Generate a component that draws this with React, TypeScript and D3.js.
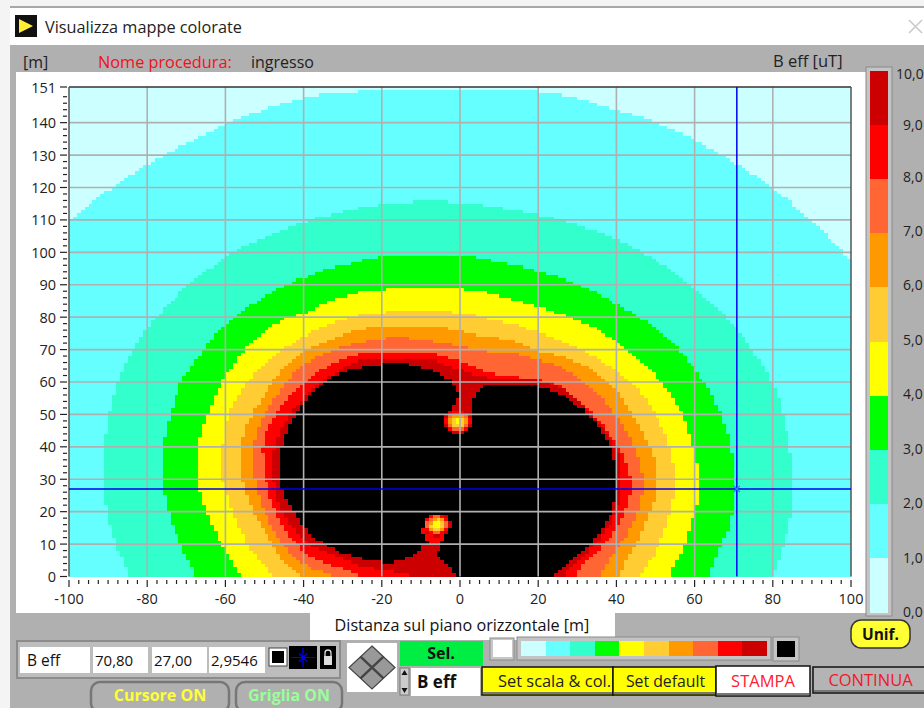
import React, { useMemo } from "react";
import * as d3 from "d3";

type P = [number, number];

const palette = ["#ccffff", "#66ffff", "#33ffcc", "#00ff00", "#ffff00", "#ffcc33", "#ff9900", "#ff6633", "#ff0000", "#cc0000"];
const insideColor = "#000000";

// Contours of the map, in metres.
const contourCyan: P[] = [[-115, 96], [-99.7, 109.2], [-90.3, 119], [-79.8, 127.4], [-59.6, 140], [-48.6, 144.6], [-35.8, 149], [-20, 149.8], [0, 150], [15, 149.8], [25.6, 149.2], [40.2, 143.7], [48.6, 140.9], [59.6, 135.3], [70.3, 127.6], [79.8, 120.2], [89.5, 110.5], [99.2, 98.5], [112, 84], [125, -20], [-125, -20]];
const contourTeal: P[] = [[-84.4, 0], [-88.7, 11.4], [-91.3, 25.8], [-91.6, 35], [-89.5, 51.4], [-87.7, 60], [-83.6, 70.8], [-77.2, 80.6], [-69.8, 89.8], [-59.6, 99], [-51.9, 103.7], [-39.1, 109.8], [-30.7, 112.3], [-21.2, 114.5], [-12.8, 115.6], [-0.5, 115.6], [9.5, 113.8], [18.7, 112], [28.1, 109.2], [38.4, 105.2], [47.3, 99.7], [59.6, 89.8], [69.8, 78.2], [76, 67.7], [79.8, 60], [82.6, 51.4], [85.7, 29.8], [84.9, 19.7], [82.6, 9.2], [80, 0], [78, -10], [-82, -10]];
const contourGreen: P[] = [[-67, 0], [-71.6, 9.2], [-75.4, 22.8], [-76.2, 32.9], [-76, 42.2], [-72.1, 57.5], [-71.6, 60], [-65.7, 69.8], [-59.6, 79], [-45.3, 89.8], [-34.5, 94.8], [-24.8, 97.5], [-19.2, 99], [3.3, 99], [10.2, 96.9], [19.9, 94.5], [29.9, 90.5], [38.4, 85.2], [44.2, 81.2], [53.7, 73.8], [59.6, 64.6], [63.9, 57.5], [68.5, 45.2], [70.3, 32], [69.6, 16.6], [66.5, 9.2], [63.4, 0], [61, -10], [-65, -10]];
const contourYellow: P[] = [[-55.8, 0], [-62.1, 12.3], [-66.5, 24.6], [-67.3, 33.8], [-67, 42.2], [-62.1, 57.5], [-57, 67.4], [-51.9, 73.8], [-45.3, 79.7], [-38.4, 81.5], [-35, 84.3], [-28.9, 86.8], [-19.7, 88.8], [0, 88.8], [7.7, 87.4], [18.7, 83.7], [28.9, 79.7], [35.8, 76], [44.2, 68.9], [51.9, 59.7], [57, 50.5], [59.6, 40], [61.1, 32], [60.9, 23.7], [58.8, 14.5], [55.8, 5.2], [53.2, 0], [50, -10], [-53, -10]];
const contourGold: P[] = [[-47.3, 0], [-54.5, 9.2], [-59.6, 24.6], [-61.4, 33.8], [-59.6, 48.3], [-57.5, 54.5], [-54.5, 60], [-49.4, 66.8], [-40.9, 73.5], [-32.5, 78.5], [-22.5, 81.7], [0, 81.7], [5.6, 80], [17.1, 76.9], [29.9, 70.8], [40.2, 63.7], [46, 57.5], [50.4, 49.8], [53.7, 40], [55.2, 30.8], [54.5, 22.8], [51.9, 12.3], [49.1, 5.2], [45.5, 0], [42, -10], [-44, -10]];
const contourOrange: P[] = [[-39.6, 0], [-41.7, 1], [-46, 5.7], [-49.4, 12.3], [-54.5, 23.7], [-56.8, 35], [-55, 46.8], [-49.4, 57.5], [-43.5, 67], [-36.6, 71.4], [-27.4, 76], [-19.7, 77.1], [-3.3, 77.1], [3.3, 74.5], [14.6, 72.9], [18.7, 69.8], [29.9, 66.8], [35.8, 62.2], [40.2, 57.5], [45.5, 47.4], [50.4, 35], [50.4, 26.8], [48.6, 19.7], [45.3, 10.5], [40.4, 0], [37, -10], [-37, -10]];
const contourTomato: P[] = [[-32, 0], [-33.2, 1], [-39.6, 3], [-46, 10.3], [-51.7, 23.7], [-53.2, 35], [-52.4, 45.2], [-46, 57.5], [-40.9, 65.2], [-30.7, 70.8], [-22.5, 72.9], [-16.1, 73.9], [-9.5, 72.9], [-0.8, 71.4], [3.3, 69.8], [14.6, 68.9], [26.3, 64.6], [33.2, 59.1], [42.2, 46.8], [47.3, 32], [46, 20.6], [42.2, 11.4], [35, 0], [31, -10], [-28, -10]];
const contourRed: P[] = [[-25, 0], [-26.3, 1], [-33.2, 3.5], [-39.6, 6.6], [-46, 16], [-49.4, 26.8], [-50.6, 36.9], [-50.4, 43.1], [-48.6, 47.4], [-45.3, 53.5], [-39.6, 60], [-32.5, 66.2], [-24.3, 69.4], [-7.7, 69.4], [0.8, 66.2], [5.9, 63.1], [14.6, 61.5], [23, 60.6], [30.7, 54.5], [39.1, 43.1], [44.2, 32], [43, 20.6], [38.4, 11.4], [31.5, 4.3], [29.9, 0], [27, -10], [-22, -10]];
const contourDark: P[] = [[-9.5, 0], [-20, 2], [-26.3, 3.5], [-33.2, 7.2], [-39.6, 10.3], [-46, 19.6], [-48.1, 32], [-47.8, 39], [-45.3, 47.4], [-39.6, 56], [-32.5, 62.8], [-24.8, 67.5], [-7.7, 67.5], [0, 63.7], [5.9, 61.2], [19.7, 61.2], [27.4, 57.5], [35, 48.3], [40.9, 38.2], [41.7, 29.8], [40.2, 19.7], [35.8, 11.4], [31.5, 6.2], [25.6, 0], [23, -10], [-8, -10]];
const contourBlack: P[] = [[-46, 27.7], [-46.3, 35], [-45.5, 41.2], [-42.7, 49.2], [-37.6, 57.5], [-32.5, 62.2], [-25.6, 64.6], [-19.7, 65.7], [-12.8, 65.7], [-5.9, 63.1], [-1.8, 60], [1, 58.5], [5.1, 58.2], [7.7, 59.2], [18.7, 59.2], [27.4, 55.4], [34, 49.2], [39.1, 39], [40.2, 32], [39.6, 21.5], [35.8, 13.5], [31.5, 7.4], [23, 0], [21, -10], [1, -10], [-0.8, 1], [-6.4, 6.6], [-4.5, 10.5], [-9.5, 10.5], [-10.7, 7.3], [-12.8, 5.7], [-17.9, 4.2], [-20, 4.5], [-28.1, 6], [-35.3, 10.3], [-39.6, 14.4], [-42.5, 20]];
const neckTop: P[] = [[-2, 60.5], [6, 58.5], [3.5, 56], [3.4, 50], [3.4, 46], [-3, 46], [-3, 50], [0, 55.5], [-1, 58]];
const neckBottom: P[] = [[-9.9, 16], [-3, 16], [-4, 10.3], [-9, 10.3]];

const sourceCentres: P[] = [[-0.5, 47.7], [-5.9, 15.9]];
const ringRadii = [3.6, 3.2, 2.7, 2.2, 1.7, 1.0];
const ringColors = ["#cc0000", "#ff0000", "#ff6633", "#ff9900", "#ffcc33", "#ffff00"];

const xMajor = [-100, -80, -60, -40, -20, 0, 20, 40, 60, 80, 100];
const yMajor = [0, 10, 20, 30, 40, 50, 60, 70, 80, 90, 100, 110, 120, 130, 140, 151];
const scaleValues = [10, 9, 8, 7, 6, 5, 4, 3, 2, 1, 0];
const scaleLabels = ["10,0", "9,0", "8,0", "7,0", "6,0", "5,0", "4,0", "3,0", "2,0", "1,0", "0,0"];
const cursorX = 70.8;
const cursorY = 27.0;
const cursorValues = ["B eff", "70,80", "27,00", "2,9546"];

const FONT = "'Open Sans','Noto Sans',sans-serif";
const GREY = "#b0b0b0";

function chaikin(poly: P[], n = 2): P[] {
  let p = poly;
  for (let k = 0; k < n; k++) {
    const out: P[] = [];
    p.forEach((a, i) => {
      const b = p[(i + 1) % p.length];
      out.push([a[0] * 0.75 + b[0] * 0.25, a[1] * 0.75 + b[1] * 0.25]);
      out.push([a[0] * 0.25 + b[0] * 0.75, a[1] * 0.25 + b[1] * 0.75]);
    });
    p = out;
  }
  return p;
}

const x = d3.scaleLinear().domain([-100, 100]).range([69, 851]);
const y = d3.scaleLinear().domain([0, 151]).range([576.5, 87]);
const bar = d3.scaleLinear().domain([10, 0]).range([71, 612]);
const barLabelY = d3.scaleLinear().domain([10, 8, 0]).range([79, 181.5, 617]);

function cellsPath(test: (cx: number, cy: number) => boolean): string {
  let d = "";
  for (let j = 0; j < 151; j++) {
    let start: number | null = null;
    for (let i = -100; i <= 100; i++) {
      const on = i < 100 && test(i + 0.5, j + 0.5);
      if (on && start === null) start = i;
      if (!on && start !== null) {
        const x0 = Math.round(x(start));
        const x1 = Math.round(x(i));
        const y0 = Math.round(y(j + 1));
        const y1 = Math.round(y(j));
        d += `M${x0},${y0}H${x1}V${y1}H${x0}Z`;
        start = null;
      }
    }
  }
  return d;
}

function Field({ l, t, w, h, label, bold, color = "#111", size = 15, fill = "#fff", pad = 2 }: any) {
  return (
    <g>
      <rect x={l} y={t} width={w} height={h} fill={fill} />
      <text x={l + pad} y={t + h / 2 + 5.5} fontSize={size} fontWeight={bold ? 700 : 400} fill={color}>{label}</text>
    </g>
  );
}

function Btn({ l, t, w, h, label, fill, color, size = 16, dx = 0 }: any) {
  return (
    <g>
      <rect x={l} y={t} width={w} height={h} fill={fill} stroke="#111" strokeWidth={1.5} />
      <line x1={l + 1} x2={l + w - 1} y1={t + h - 2} y2={t + h - 2} stroke="#777" strokeWidth={2} />
      <text x={l + w / 2 + dx} y={t + h / 2 + 5.5} textAnchor="middle" fontSize={size} fill={color}>{label}</text>
    </g>
  );
}

function Pill({ l, t, w, h, label, color }: any) {
  return (
    <g>
      <rect x={l} y={t} width={w} height={h} rx={9} fill={GREY} stroke="#777" strokeWidth={2.5} />
      <text x={l + w / 2} y={t + 19} textAnchor="middle" fontSize={16} fontWeight={700} fill={color}>{label}</text>
    </g>
  );
}

export default function App() {
  const layers = useMemo(() => {
    const contours = [contourCyan, contourTeal, contourGreen, contourYellow, contourGold, contourOrange, contourTomato, contourRed, contourDark];
    const out: { d: string; fill: string }[] = contours.map((c, i) => {
      const s = chaikin(c);
      return { d: cellsPath((cx, cy) => d3.polygonContains(s, [cx, cy])), fill: palette[i + 1] };
    });
    const sb = chaikin(contourBlack);
    out.push({ d: cellsPath((cx, cy) => d3.polygonContains(sb, [cx, cy])), fill: insideColor });
    const st = chaikin(neckTop, 1);
    out.push({ d: cellsPath((cx, cy) => d3.polygonContains(st, [cx, cy])), fill: palette[9] });
    const sn = chaikin(neckBottom, 1);
    out.push({ d: cellsPath((cx, cy) => d3.polygonContains(sn, [cx, cy])), fill: palette[8] });
    ringRadii.forEach((r, i) => {
      const d = cellsPath((cx, cy) => sourceCentres.some((c) => Math.hypot(cx - c[0], cy - c[1]) <= r));
      out.push({ d, fill: ringColors[i] });
    });
    return out;
  }, []);

  const xMinor = d3.range(-100, 101, 2.5).filter((v) => !xMajor.includes(v));
  const yMinor = d3.range(0, 151, 2).filter((v) => !yMajor.includes(v) && v % 10 !== 0);
  const barOrder = palette.slice().reverse();

  return (
    <svg width={924} height={708} viewBox="0 0 924 708" style={{ position: "absolute", left: 0, top: 0 }} fontFamily={FONT}>
      <rect x={0} y={0} width={924} height={708} fill="#f4f4f4" />
      <rect x={10} y={6} width={914} height={702} fill={GREY} />
      <rect x={10} y={8} width={914} height={37} fill="#fff" />
      <rect x={10} y={6} width={914} height={2} fill="#a8a8a8" />

      {/* title */}
      <rect x={15} y={15} width={22} height={22} fill="#111" />
      <path d="M19,19 L33,26 L19,33 Z" fill="#ffee33" />
      <text x={45} y={33} fontSize={16.3} fill="#222">Visualizza mappe colorate</text>
      <path d="M909,20 L922,33 M922,20 L909,33" stroke="#c8c8c8" strokeWidth={1.5} />

      {/* header */}
      <text x={23} y={68} fontSize={16} fill="#222">[m]</text>
      <text x={98} y={68} fontSize={16.3} fill="#f01020">Nome procedura:</text>
      <text x={251} y={68} fontSize={16} fill="#222">ingresso</text>
      <text x={773} y={67} fontSize={16.5} fill="#222">B eff [uT]</text>

      {/* white panel */}
      <rect x={16} y={72} width={850} height={541} fill="#fff" />
      <rect x={310} y={613} width={305} height={27} fill="#fff" />
      <text x={462} y={631} textAnchor="middle" fontSize={16.2} fill="#111">Distanza sul piano orizzontale [m]</text>

      {/* map */}
      <rect x={x(-100)} y={y(151)} width={x(100) - x(-100)} height={y(0) - y(151)} fill={palette[0]} />
      {layers.map((l, i) => (
        <path key={i} d={l.d} fill={l.fill} shapeRendering="crispEdges" />
      ))}

      {/* grid */}
      {xMajor.slice(1, -1).map((v) => (
        <line key={v} x1={x(v)} x2={x(v)} y1={y(151)} y2={y(0)} stroke={GREY} strokeWidth={1.6} />
      ))}
      {yMajor.slice(1, -1).map((v) => (
        <line key={v} x1={x(-100)} x2={x(100)} y1={y(v)} y2={y(v)} stroke={GREY} strokeWidth={1.6} />
      ))}

      {/* frame */}
      <line x1={x(-100)} x2={x(100)} y1={y(151)} y2={y(151)} stroke="#333" strokeWidth={1.5} />
      <line x1={x(-100)} x2={x(-100)} y1={y(151)} y2={y(0)} stroke="#555" strokeWidth={1.5} />
      <line x1={x(100)} x2={x(100)} y1={y(151)} y2={y(0)} stroke="#555" strokeWidth={1.5} />

      {/* cursor */}
      <line x1={x(cursorX)} x2={x(cursorX)} y1={y(151)} y2={y(0)} stroke="#0000ee" strokeWidth={1.5} />
      <line x1={x(-100)} x2={x(100)} y1={y(cursorY)} y2={y(cursorY)} stroke="#0000ee" strokeWidth={1.5} />
      <path d={`M${x(cursorX) - 3},${y(cursorY) - 3}l6,6m0,-6l-6,6`} stroke="#2a7fff" strokeWidth={1.2} fill="none" />

      {/* axes */}
      {yMajor.map((v) => (
        <g key={v}>
          <line x1={60} x2={67} y1={y(v)} y2={y(v)} stroke="#222" strokeWidth={1.2} />
          <text x={56} y={y(v) + 5.5} textAnchor="end" fontSize={14.5} fill="#222">{v}</text>
        </g>
      ))}
      {yMinor.map((v) => (
        <line key={v} x1={63} x2={67} y1={y(v)} y2={y(v)} stroke="#222" strokeWidth={1.2} />
      ))}
      {xMajor.map((v) => (
        <g key={v}>
          <line x1={x(v)} x2={x(v)} y1={580} y2={587} stroke="#222" strokeWidth={1.2} />
          <text x={x(v)} y={604} textAnchor="middle" fontSize={14.5} fill="#222">{v}</text>
        </g>
      ))}
      {xMinor.map((v) => (
        <line key={v} x1={x(v)} x2={x(v)} y1={580} y2={584} stroke="#222" strokeWidth={1.2} />
      ))}

      {/* colour bar */}
      <rect x={866} y={67} width={26} height={549} fill="#c4c4c4" stroke="#8a8a8a" />
      {barOrder.map((c, i) => (
        <rect key={c} x={870} y={bar(10 - i)} width={18} height={bar(9) - bar(10) + 0.5} fill={c} shapeRendering="crispEdges" />
      ))}
      {scaleValues.map((v, i) => (
        <text key={v} x={v === 10 ? 896 : 903} y={barLabelY(v)} fontSize={14} fill="#222">{scaleLabels[i]}</text>
      ))}

      {/* cursor panel */}
      <rect x={17} y={641} width={323} height={37} fill="#bdbdbd" stroke="#8c8c8c" strokeWidth={2} />
      <Field l={20} t={647} w={70} h={26} label={cursorValues[0]} pad={7} size={15.5} />
      <Field l={93} t={647} w={55} h={26} label={cursorValues[1]} />
      <Field l={152} t={647} w={55} h={26} label={cursorValues[2]} />
      <Field l={209} t={647} w={56} h={26} label={cursorValues[3]} />
      <rect x={269} y={648} width={18} height={18} fill="#fff" stroke="#444" />
      <rect x={272} y={651} width={12} height={12} fill="#000" />
      <rect x={289} y={646} width={28} height={23} fill="#000" />
      <path d="M291,657.5 H315 M303,648 V667 M299,653.5 L307,661.5 M307,653.5 L299,661.5" stroke="#0000ff" strokeWidth={1.2} />
      <rect x={320} y={646} width={16} height={23} fill="#000" />
      <rect x={324} y={656} width={8} height={9} fill="#ddd" />
      <path d="M325,656 v-3 a3,3 0 0 1 6,0 v3" fill="none" stroke="#ddd" strokeWidth={1.3} />

      <Pill l={91} t={682} w={138} h={30} label="Cursore ON" color="#ffff33" />
      <Pill l={236} t={682} w={106} h={30} label="Griglia ON" color="#99ff99" />

      {/* diamond */}
      <rect x={347} y={643} width={50} height={49} fill="#fff" />
      <path d="M372,646 L395,667.5 L372,689 L349,667.5 Z" fill="#999" stroke="#444" strokeWidth={1.2} />
      <path d="M360.5,656.7 L383.5,678.3 M383.5,656.7 L360.5,678.3" stroke="#444" strokeWidth={2.4} />

      {/* selector */}
      <rect x={400} y={641} width={83} height={25} fill="#00ee44" />
      <text x={441} y={658.5} textAnchor="middle" fontSize={16} fontWeight={700} fill="#111">Sel.</text>
      <rect x={400} y={668} width={9} height={27} fill="#ccc" stroke="#777" />
      <path d="M404.5,670 l3,5 h-6 Z M404.5,693 l3,-5 h-6 Z" fill="#111" />
      <Field l={411} t={668} w={69} h={28} label="B eff" bold size={17} pad={6} />

      {/* slider and colour ramp */}
      <rect x={490} y={638} width={24} height={22} fill="#c8c8c8" stroke="#8a8a8a" />
      <rect x={493} y={640} width={19} height={17} fill="#fff" />
      <rect x={517} y={637} width={254} height={23} fill="#c4c4c4" stroke="#8a8a8a" />
      {palette.map((c, i) => (
        <rect key={c} x={521 + i * 24.6} y={641} width={24.8} height={15} fill={c} shapeRendering="crispEdges" />
      ))}
      <rect x={773} y={637} width={26} height={24} fill="#c4c4c4" stroke="#8a8a8a" />
      <rect x={777} y={641} width={18} height={16} fill="#000" />

      {/* buttons */}
      <rect x={851} y={620} width={59} height={28} rx={10} fill="#ffff33" stroke="#333" strokeWidth={1.5} />
      <text x={880.5} y={640} textAnchor="middle" fontSize={15.5} fontWeight={700} fill="#111">Unif.</text>
      <Btn l={482} t={667} w={131} h={28} label="Set scala & col." fill="#ffff00" color="#222" size={16.4} dx={7} />
      <Btn l={613} t={667} w={103} h={28} label="Set default" fill="#ffff00" color="#222" size={15.8} dx={1} />
      <Btn l={716} t={666} w={94} h={30} label="STAMPA" fill="#ffffff" color="#ff2030" size={16.5} />
      <Btn l={813} t={667} w={115} h={26} label="CONTINUA" fill="#b4b4b4" color="#ee1828" size={16.5} />
    </svg>
  );
}
